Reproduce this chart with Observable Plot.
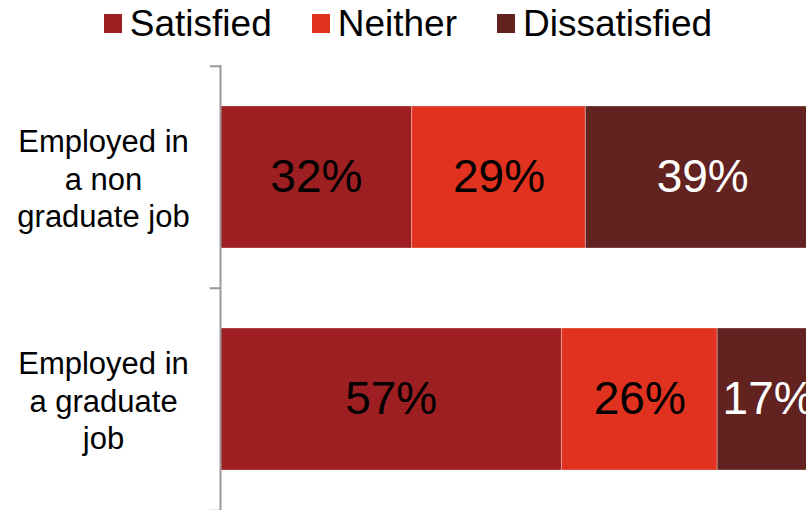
<!DOCTYPE html>
<html>
<head>
<meta charset="utf-8">
<script src="https://cdn.jsdelivr.net/npm/d3@7"></script>
<script src="https://cdn.jsdelivr.net/npm/@observablehq/plot@0.6"></script>
<style>
  html, body { margin: 0; padding: 0; background: #fff; overflow: hidden; width: 806px; height: 510px; }
  body { font-family: "Liberation Sans", Arial, sans-serif; }
  #legend { height: 55px; box-sizing: border-box; padding-top: 5px; padding-left: 10px; display: flex; justify-content: center; align-items: flex-start; font-size: 37px; line-height: 37px; color: #000; }
  .item { display: flex; align-items: center; margin: 0 20px; }
  .sw { width: 18px; height: 19px; margin-right: 8px; position: relative; top: 0px; }
  #chart svg { overflow: visible; }
</style>
</head>
<body>
<div id="legend"></div>
<div id="chart"></div>
<script>
const jobs = ["Employed in a non graduate job", "Employed in a graduate job"];
const jobLabels = ["Employed in\na non\ngraduate job", "Employed in\na graduate\njob"];
const responses = ["Satisfied", "Neither", "Dissatisfied"];
const colors = ["#9e1f21", "#e0321f", "#622220"];
const labelColors = ["#000", "#000", "#fff"];
const nonGraduate = [32, 29, 39];
const graduate = [57, 26, 17];

const data = [];
[nonGraduate, graduate].forEach((vals, j) => {
  vals.forEach((v, r) => data.push({job: jobs[j], response: responses[r], value: v}));
});

const legend = document.getElementById("legend");
responses.forEach((r, i) => {
  const it = document.createElement("div");
  it.className = "item";
  const sw = document.createElement("div");
  sw.className = "sw";
  sw.style.background = colors[i];
  const t = document.createElement("span");
  t.textContent = r;
  it.appendChild(sw); it.appendChild(t);
  legend.appendChild(it);
});

const plotH = 455, plotTop = 10;
const band = (plotH - plotTop) / jobs.length;

const plot = Plot.plot({
  width: 806,
  height: plotH,
  marginTop: plotTop,
  marginBottom: 0,
  marginLeft: 220,
  marginRight: 0,
  style: {fontFamily: "Liberation Sans, Arial, sans-serif", background: "white", overflow: "visible"},
  x: {domain: [0, 100], range: [220, 819], axis: null},
  y: {domain: jobs, padding: 0, axis: null},
  color: {domain: responses, range: colors},
  marks: [
    Plot.barX(data, Plot.stackX({
      x: "value", y: "job", fill: "response", order: responses,
      insetTop: 40, insetBottom: 40,
      stroke: "#fff", strokeOpacity: 0.3, strokeWidth: 1
    })),
    Plot.text(data, Plot.stackX({
      x: "value", y: "job", z: "response", order: responses,
      text: d => d.value + "%",
      fill: d => labelColors[responses.indexOf(d.response)],
      fontSize: 46
    })),
    Plot.text(jobs, {
      y: d => d, frameAnchor: "left", dx: -117,
      text: d => jobLabels[jobs.indexOf(d)],
      textAnchor: "middle", fontSize: 31, lineHeight: 1.21, fill: "#000"
    }),
    Plot.ruleX([0], {stroke: "#999", strokeWidth: 2}),
    Plot.ruleY(jobs, {y: d => d, x1: -1.7, x2: 0, dy: -band / 2, stroke: "#999", strokeWidth: 2}),
    Plot.ruleY(jobs.slice(-1), {y: d => d, x1: -1.7, x2: 0, dy: band / 2, stroke: "#999", strokeWidth: 2})
  ]
});
document.getElementById("chart").appendChild(plot);
</script>
</body>
</html>
